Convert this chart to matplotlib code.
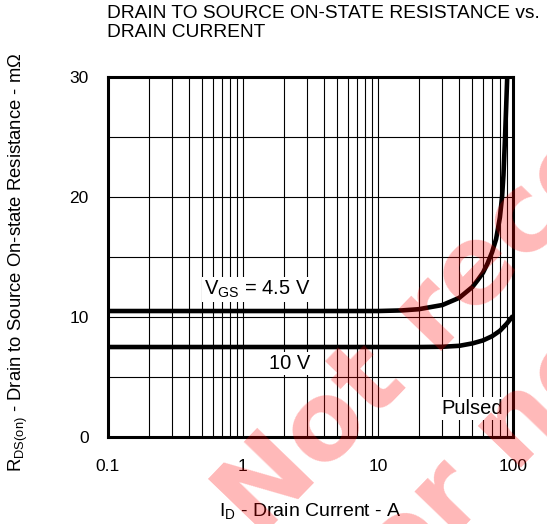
import matplotlib
matplotlib.use("Agg")
import matplotlib.pyplot as plt
from matplotlib.ticker import LogLocator, NullFormatter, FixedLocator

plt.rcParams['font.family'] = ['Liberation Sans', 'DejaVu Sans']
plt.rcParams['mathtext.fontset'] = 'custom'
plt.rcParams['mathtext.rm'] = 'Liberation Sans'

# values
id_45 = [0.1, 1, 5, 10, 15, 20, 30, 40, 50, 55, 60, 65, 70, 75, 80, 83, 85, 87, 89, 91]
r_45 = [10.5, 10.5, 10.5, 10.5, 10.55, 10.65, 11.0, 11.6, 12.5, 13.1, 13.7, 14.5, 15.4, 16.5,
        18.3, 20.0, 21.8, 24.5, 27.5, 30.5]
id_10 = [0.1, 1, 10, 20, 30, 40, 50, 60, 70, 80, 90, 100]
r_10 = [7.5, 7.5, 7.5, 7.5, 7.52, 7.6, 7.8, 8.05, 8.4, 8.85, 9.45, 10.1]

xticks = [0.1, 1, 10, 100]
xticklabels = ['0.1', '1', '10', '100']
yticks = [0, 10, 20, 30]

fig = plt.figure(figsize=(5.47, 5.24), dpi=100)
ax = fig.add_axes([0.1974, 0.166, 0.7404, 0.687])

ax.plot(id_45, r_45, color='black', lw=3.3, solid_capstyle='butt', zorder=3)
ax.plot(id_10, r_10, color='black', lw=3.3, solid_capstyle='butt', zorder=3)

ax.set_xscale('log')
ax.set_xlim(0.1, 100)
ax.set_ylim(0, 30)
ax.set_xticks(xticks)
ax.set_xticklabels(xticklabels)
ax.xaxis.set_minor_locator(LogLocator(base=10, subs=range(2, 10)))
ax.xaxis.set_minor_formatter(NullFormatter())
ax.set_yticks(yticks)
ax.yaxis.set_minor_locator(FixedLocator([5, 15, 25]))

ax.grid(True, which='both', color='black', lw=0.8)
ax.set_axisbelow(True)
ax.tick_params(which='both', length=0, labelsize=12.5)
ax.tick_params(axis='x', pad=16)
ax.tick_params(axis='y', pad=14)
for s in ax.spines.values():
    s.set_linewidth(2.2)

box = dict(facecolor='white', edgecolor='none', pad=1.5)
ax.text(1.27, 12.3, r'V$_{\mathrm{GS}}$ = 4.5 V', ha='center', va='center', fontsize=14.5, bbox=box, zorder=4)
ax.text(2.23, 6.15, '10 V', ha='center', va='center', fontsize=14.5, bbox=box, zorder=4)
ax.text(49.7, 2.4, 'Pulsed', ha='center', va='center', fontsize=14.5, bbox=box, zorder=4)

ax.set_xlabel(r'I$_{\mathrm{D}}$ - Drain Current - A', fontsize=14, labelpad=20)
fig.text(0.033, 0.5, r'R$_{\mathrm{DS(on)}}$ - Drain to Source On-state Resistance - m$\Omega$',
         rotation=90, ha='center', va='center', fontsize=13.3)

fig.text(0.196, 0.99, 'DRAIN TO SOURCE ON-STATE RESISTANCE vs.\nDRAIN CURRENT',
         ha='left', va='top', fontsize=13.8, linespacing=1.15)

# watermark
wm = dict(family='DejaVu Sans', color='red', alpha=0.28, fontsize=78, fontweight='bold',
          rotation=46, rotation_mode='anchor', ha='left', va='baseline', zorder=10)
fig.text(0.473, -0.031, 'Not recommended', **wm)
fig.text(0.671, -0.197, 'for new design', **wm)

fig.savefig('out.png', dpi=100)
